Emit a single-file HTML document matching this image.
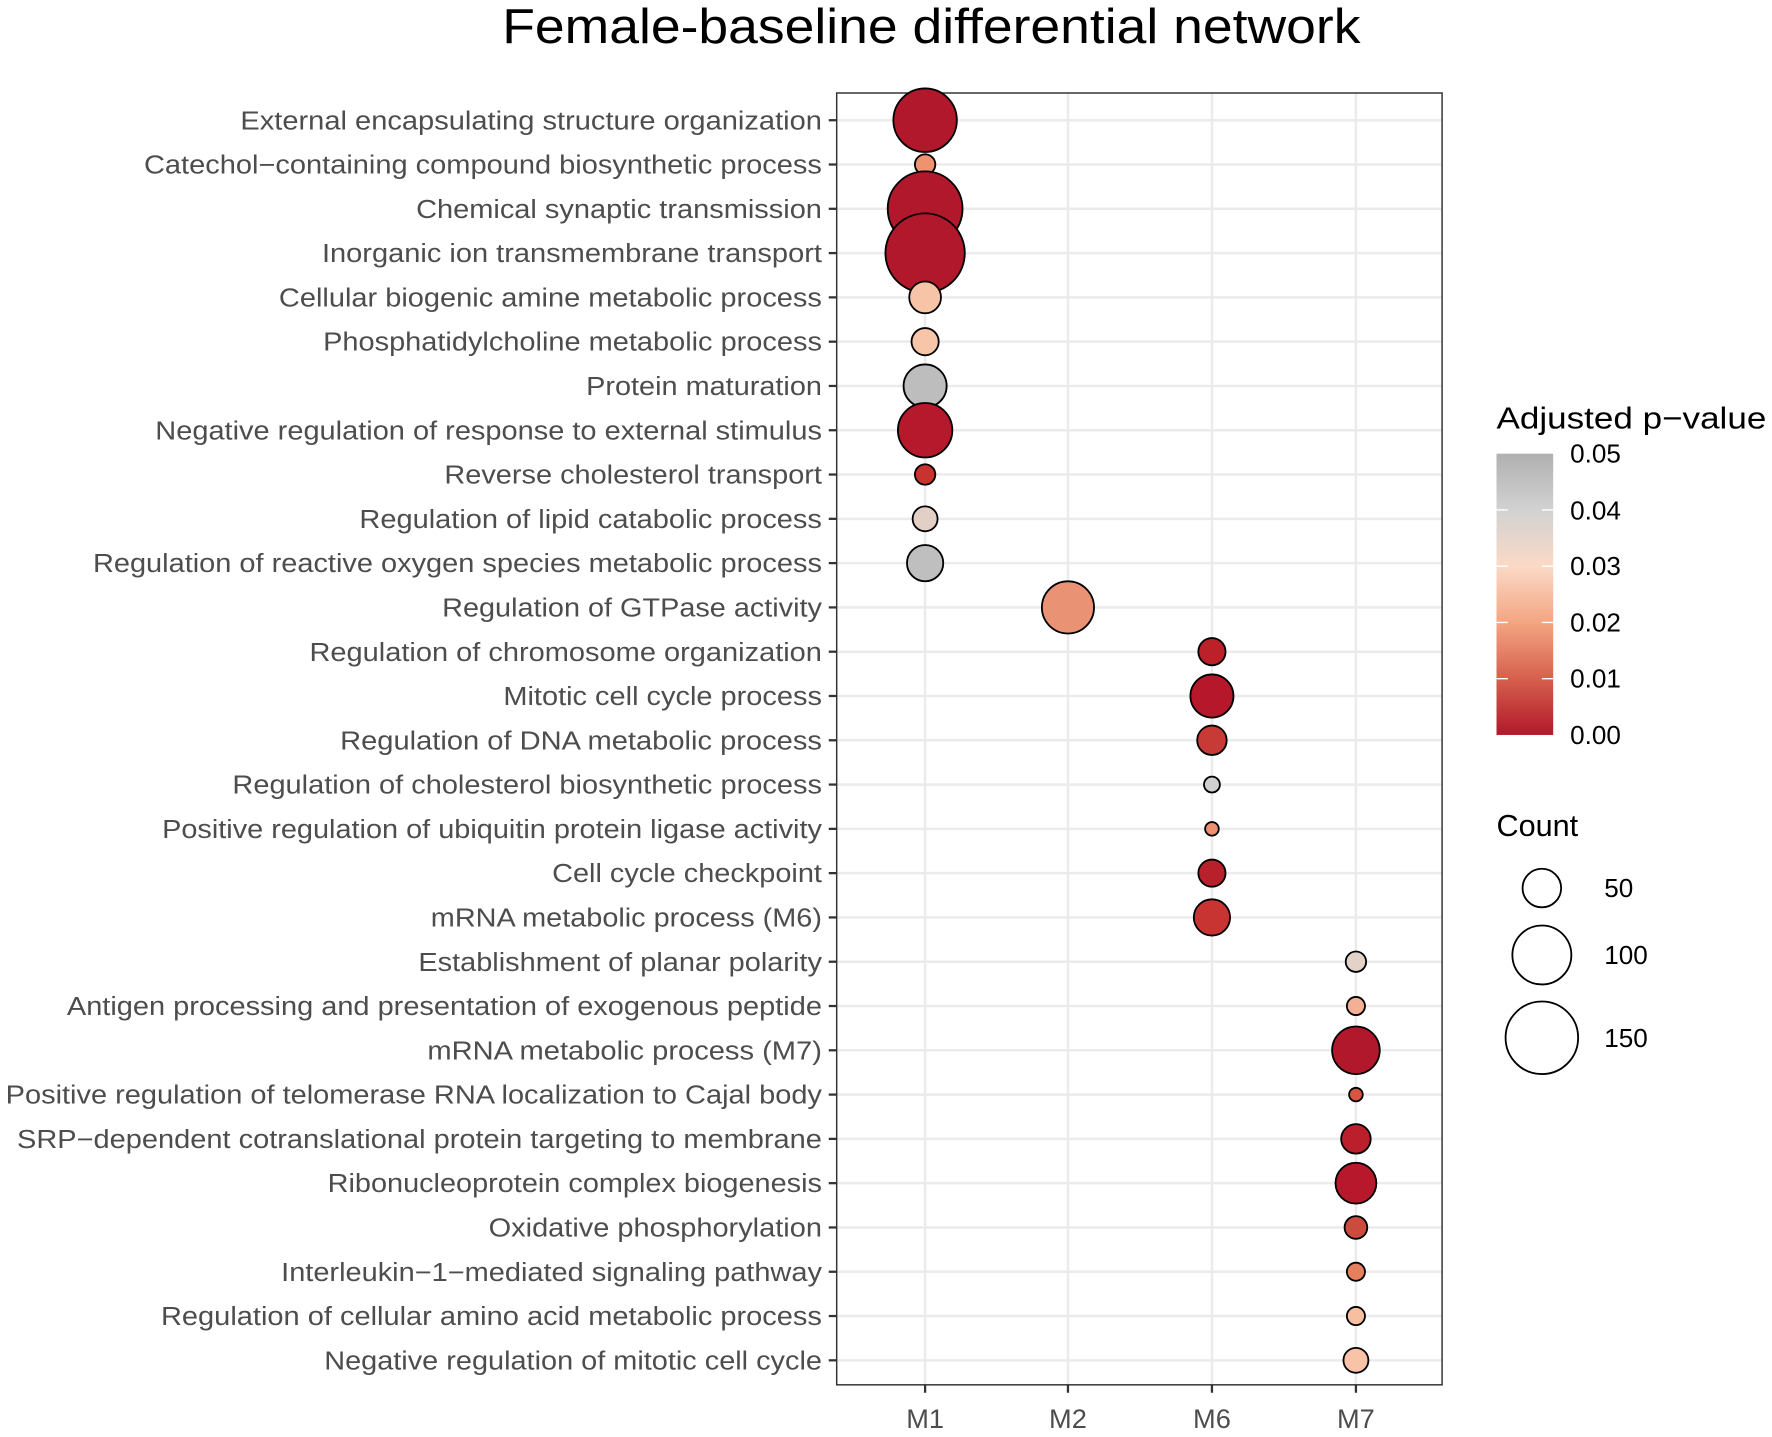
<!DOCTYPE html>
<html><head><meta charset="utf-8"><style>html,body{margin:0;padding:0;background:#fff}svg{display:block}</style></head>
<body>
<svg width="1772" height="1437" viewBox="0 0 1563 1267" preserveAspectRatio="none" xmlns="http://www.w3.org/2000/svg" font-family="Liberation Sans, sans-serif">
<defs>
<linearGradient id="g" x1="0" y1="1" x2="0" y2="0">
<stop offset="0" stop-color="#b2182b"/>
<stop offset="0.2" stop-color="#d6604d"/>
<stop offset="0.4" stop-color="#f4a582"/>
<stop offset="0.6" stop-color="#fbd9c6"/>
<stop offset="0.8" stop-color="#d2d2d2"/>
<stop offset="1" stop-color="#b0b0b0"/>
</linearGradient>
</defs>
<text x="443" y="38" font-size="43" textLength="757" lengthAdjust="spacingAndGlyphs" fill="#000">Female-baseline differential network</text>
<g id="grid" stroke="#ebebeb" stroke-width="2.2"></g>
<rect x="738" y="82" width="534" height="1139" fill="none" stroke="#333" stroke-width="1.3"/>
<g id="labels" font-size="23" fill="#4d4d4d"></g>
<g id="ticks" stroke="#333" stroke-width="2"></g>
<g id="dots" stroke="#000" stroke-width="1.6"></g>
<g font-size="24" fill="#4d4d4d" text-anchor="middle">
<text x="816" y="1259">M1</text><text x="942" y="1259">M2</text><text x="1069" y="1259">M6</text><text x="1196" y="1259">M7</text>
</g>
<text x="1320" y="378" font-size="27" textLength="238" lengthAdjust="spacingAndGlyphs" fill="#000">Adjusted p−value</text>
<rect x="1320" y="400" width="50" height="248" fill="url(#g)"/>
<g stroke="#fff" stroke-width="1.2">
<line x1="1320" y1="449.6" x2="1330" y2="449.6"/><line x1="1360" y1="449.6" x2="1370" y2="449.6"/>
<line x1="1320" y1="499.2" x2="1330" y2="499.2"/><line x1="1360" y1="499.2" x2="1370" y2="499.2"/>
<line x1="1320" y1="548.8" x2="1330" y2="548.8"/><line x1="1360" y1="548.8" x2="1370" y2="548.8"/>
<line x1="1320" y1="598.4" x2="1330" y2="598.4"/><line x1="1360" y1="598.4" x2="1370" y2="598.4"/>
</g>
<g font-size="23" fill="#000">
<text x="1385" y="408">0.05</text><text x="1385" y="458">0.04</text><text x="1385" y="507">0.03</text>
<text x="1385" y="557">0.02</text><text x="1385" y="606">0.01</text><text x="1385" y="656">0.00</text>
</g>
<text x="1320" y="737" font-size="27" fill="#000">Count</text>
<g fill="#fff" stroke="#000" stroke-width="1.6">
<circle cx="1360" cy="783" r="17"/><circle cx="1360" cy="842" r="26"/><circle cx="1360" cy="915" r="32"/>
</g>
<g font-size="23" fill="#000">
<text x="1415" y="791">50</text><text x="1415" y="850">100</text><text x="1415" y="923">150</text>
</g>
<script>
var rows=[
["External encapsulating structure organization",212,0,28,"#b2182b"],
["Catechol−containing compound biosynthetic process",127,0,9,"#ee9270"],
["Chemical synaptic transmission",367,0,33,"#b2182b"],
["Inorganic ion transmembrane transport",284,0,35,"#b2182b"],
["Cellular biogenic amine metabolic process",246,0,14,"#f8c4a7"],
["Phosphatidylcholine metabolic process",285,0,12,"#f7c5a8"],
["Protein maturation",517,0,19,"#bdbdbd"],
["Negative regulation of response to external stimulus",137,0,24,"#b5192b"],
["Reverse cholesterol transport",392,0,9,"#c8332f"],
["Regulation of lipid catabolic process",317,0,11,"#e2d0c6"],
["Regulation of reactive oxygen species metabolic process",82,0,16,"#bfbfbf"],
["Regulation of GTPase activity",390,1,23,"#e99274"],
["Regulation of chromosome organization",273,2,12,"#bc2129"],
["Mitotic cell cycle process",444,2,19,"#b7172a"],
["Regulation of DNA metabolic process",300,2,13,"#c83a35"],
["Regulation of cholesterol biosynthetic process",205,2,7,"#cfcfcf"],
["Positive regulation of ubiquitin protein ligase activity",143,2,6,"#ee8f6f"],
["Cell cycle checkpoint",487,2,12,"#b8202b"],
["mRNA metabolic process (M6)",380,2,16,"#c73432"],
["Establishment of planar polarity",369,3,9,"#e3d2c8"],
["Antigen processing and presentation of exogenous peptide",59,3,8,"#f4b094"],
["mRNA metabolic process (M7)",377,3,21,"#b2182b"],
["Positive regulation of telomerase RNA localization to Cajal body",5,3,6,"#d9553f"],
["SRP−dependent cotranslational protein targeting to membrane",15,3,13,"#bb1f2c"],
["Ribonucleoprotein complex biogenesis",289,3,18,"#b8182b"],
["Oxidative phosphorylation",431,3,10,"#cd4b3d"],
["Interleukin−1−mediated signaling pathway",248,3,8,"#e57f5e"],
["Regulation of cellular amino acid metabolic process",142,3,8,"#f7be9f"],
["Negative regulation of mitotic cell cycle",286,3,11,"#f8c3a6"]];
var xs=[816,942,1069,1196],NS="http://www.w3.org/2000/svg",SP=39.05;
function el(p,t,a){var e=document.createElementNS(NS,t);for(var k in a)e.setAttribute(k,a[k]);document.getElementById(p).appendChild(e);return e;}
xs.forEach(function(x){el("grid","line",{x1:x,y1:82,x2:x,y2:1221});});
rows.forEach(function(r,i){var y=106+i*SP;
el("grid","line",{x1:738,y1:y,x2:1272,y2:y});
var t=el("labels","text",{x:r[1],y:y+8,textLength:725-r[1],lengthAdjust:"spacingAndGlyphs"});t.textContent=r[0];
el("ticks","line",{x1:731,y1:y,x2:738,y2:y});
});
xs.forEach(function(x){el("ticks","line",{x1:x,y1:1221,x2:x,y2:1228});});
rows.forEach(function(r,i){var y=106+i*SP;el("dots","circle",{cx:xs[r[2]],cy:y,r:r[3],fill:r[4]});});
</script>
</svg>
</body></html>
